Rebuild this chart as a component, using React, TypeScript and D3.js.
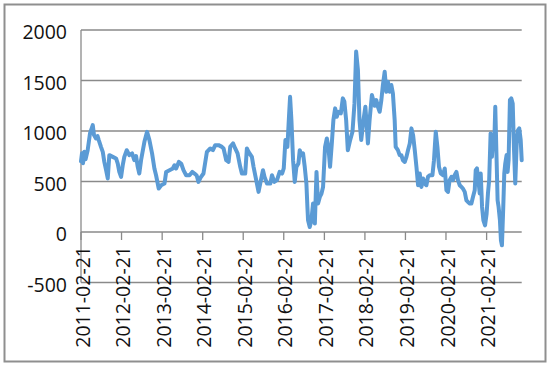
import React from "react";
import * as d3 from "d3";

const dates: string[] = [
  "2011-02-21","2011-03-02","2011-03-11","2011-03-23","2011-04-03","2011-04-22","2011-05-13","2011-06-07","2011-06-18","2011-07-06",
  "2011-07-20","2011-07-31","2011-08-20","2011-09-05","2011-09-19","2011-10-05","2011-10-20","2011-11-03","2011-12-04","2012-01-03",
  "2012-01-18","2012-02-01","2012-02-17","2012-03-03","2012-03-17","2012-04-08","2012-05-01","2012-05-26","2012-06-15","2012-07-01",
  "2012-07-16","2012-07-30","2012-08-15","2012-09-14","2012-10-08","2012-10-29","2012-11-22","2012-12-13","2012-12-28","2013-01-21",
  "2013-02-12","2013-03-14","2013-03-29","2013-04-28","2013-05-28","2013-06-12","2013-06-27","2013-07-21","2013-08-11","2013-09-01",
  "2013-09-25","2013-10-25","2013-11-19","2013-12-09","2013-12-29","2014-01-14","2014-02-03","2014-02-28","2014-03-31","2014-04-30",
  "2014-05-24","2014-06-14","2014-07-14","2014-08-13","2014-08-28","2014-09-21","2014-10-12","2014-10-27","2014-11-21","2014-12-11",
  "2015-01-01","2015-01-25","2015-02-09","2015-03-11","2015-03-26","2015-04-10","2015-05-10","2015-05-25","2015-06-18","2015-07-09",
  "2015-07-24","2015-08-18","2015-09-01","2015-09-23","2015-10-23","2015-11-07","2015-11-28","2015-12-22","2016-01-15","2016-02-06",
  "2016-02-21","2016-03-07","2016-03-25","2016-04-08","2016-04-18","2016-04-30","2016-05-15","2016-05-30","2016-06-14","2016-07-02",
  "2016-07-14","2016-07-29","2016-08-13","2016-08-28","2016-09-12","2016-09-21","2016-09-27","2016-10-12","2016-10-27","2016-11-11",
  "2016-11-27","2016-12-12","2016-12-26","2017-01-11","2017-01-26","2017-02-09","2017-02-27","2017-03-15","2017-03-29","2017-04-13",
  "2017-04-29","2017-05-13","2017-05-29","2017-06-13","2017-06-27","2017-07-19","2017-08-06","2017-08-20","2017-09-05","2017-09-20",
  "2017-10-11","2017-11-01","2017-11-19","2017-12-04","2017-12-20","2018-01-03","2018-01-19","2018-02-08","2018-02-25","2018-03-06",
  "2018-03-20","2018-04-04","2018-04-25","2018-05-20","2018-06-04","2018-06-18","2018-07-04","2018-07-19","2018-08-02","2018-08-18",
  "2018-09-02","2018-09-16","2018-10-02","2018-10-17","2018-10-31","2018-11-16","2018-11-25","2018-12-15","2018-12-31","2019-01-15",
  "2019-01-29","2019-02-15","2019-03-02","2019-03-16","2019-04-01","2019-04-16","2019-05-01","2019-05-16","2019-05-31","2019-06-15",
  "2019-06-30","2019-07-15","2019-07-30","2019-08-14","2019-08-29","2019-09-12","2019-09-28","2019-10-22","2019-11-05","2019-11-21",
  "2019-12-06","2019-12-20","2020-01-05","2020-01-25","2020-02-10","2020-02-25","2020-03-10","2020-03-25","2020-04-10","2020-04-24",
  "2020-05-09","2020-05-25","2020-06-08","2020-06-24","2020-07-09","2020-07-23","2020-08-08","2020-08-23","2020-09-06","2020-09-22",
  "2020-10-07","2020-10-21","2020-11-06","2020-11-15","2020-11-26","2020-12-09","2020-12-21","2020-12-30","2021-01-11","2021-01-23",
  "2021-02-07","2021-02-21","2021-03-05","2021-03-16","2021-03-29","2021-04-10","2021-04-22","2021-05-01","2021-05-10","2021-05-22",
  "2021-05-31","2021-06-09","2021-06-21","2021-06-30","2021-07-09","2021-07-21","2021-07-30","2021-08-08","2021-08-20","2021-08-29",
  "2021-09-07","2021-09-19","2021-10-01","2021-10-14","2021-10-25","2021-11-06","2021-11-19","2021-12-01","2021-12-12","2021-12-25",
  "2022-01-03",
];

const values: number[] = [
  700,780,680,794,720,810,976,1058,960,926,
  950,910,843,794,694,612,530,761,744,728,
  678,595,546,661,744,810,761,778,711,751,
  645,579,711,893,992,910,778,629,562,430,
  463,480,595,612,629,661,629,694,678,612,
  562,562,595,579,560,496,540,579,794,827,
  810,860,860,843,827,711,694,843,877,827,
  778,645,579,579,827,794,744,645,513,397,
  480,612,546,480,480,562,496,513,595,579,
  629,910,843,1141,1339,1108,711,496,645,678,
  810,761,778,645,480,248,116,50,116,282,
  83,595,282,347,381,446,843,926,843,645,
  877,1108,1224,1141,1190,1174,1323,1290,1108,810,
  910,992,1273,1786,1604,1108,910,1108,1240,1108,
  877,1108,1356,1250,1306,1240,1190,1306,1455,1587,
  1389,1488,1389,1455,1373,1108,843,810,761,761,
  711,694,744,810,877,1026,959,810,645,463,
  579,446,530,480,463,546,562,562,711,992,
  843,645,579,562,629,414,397,513,546,513,
  562,595,513,463,446,430,397,314,298,282,
  282,347,414,612,629,513,381,579,248,116,
  66,182,381,513,976,744,943,877,1240,711,
  314,248,116,-82,-132,248,579,678,761,595,
  711,1306,1323,1273,843,480,877,1008,1026,910,
  711,
];

const yTicks: number[] = [-500, 0, 500, 1000, 1500, 2000];
const xTickLabels: string[] = [
  "2011-02-21","2012-02-21","2013-02-21","2014-02-21","2015-02-21","2016-02-21",
  "2017-02-21","2018-02-21","2019-02-21","2020-02-21","2021-02-21",
];

export default function App() {
  const W = 550, H = 365;
  const left = 81, right = 521.7, top = 30, bottom = 282.5;
  const parse = d3.timeParse("%Y-%m-%d");
  const pts = dates.map((d, i) => ({ t: parse(d) as Date, v: values[i] }));
  const x = d3.scaleTime()
    .domain([parse(dates[0]) as Date, parse(dates[dates.length - 1]) as Date])
    .range([left, right]);
  const y = d3.scaleLinear().domain([-500, 2000]).range([bottom, top]);
  const line = d3.line<{ t: Date; v: number }>()
    .x((p) => x(p.t))
    .y((p) => y(p.v));
  const font = "'Open Sans', sans-serif";
  const grid = "#8a8a8a";
  return (
    <svg width={W} height={H} style={{ position: "absolute", left: 0, top: 0, background: "#fff" }}>
      <rect x={4.5} y={4.5} width={541} height={357} fill="#fff" stroke="#8f8f8f" strokeWidth={2} />
      {yTicks.map((t) => (
        <g key={t}>
          <line x1={left} x2={right} y1={y(t)} y2={y(t)} stroke={grid} strokeWidth={1.3} />
          <text x={67} y={y(t) + 1.5} textAnchor="end" dominantBaseline="central"
            fontFamily={font} fontSize={19.5} fill="#111">{t}</text>
        </g>
      ))}
      <line x1={left} x2={left} y1={top} y2={bottom} stroke={grid} strokeWidth={1.3} />
      {xTickLabels.map((s) => {
        const tx = x(parse(s) as Date);
        return (
          <g key={s}>
            <line x1={tx} x2={tx} y1={y(0)} y2={y(0) + 8} stroke={grid} strokeWidth={1.3} />
            <text transform={`translate(${tx + 1.7},246) rotate(-90)`} textAnchor="end" dy="0.35em"
              fontFamily={font} fontSize={19.5} fill="#111">{s}</text>
          </g>
        );
      })}
      <path d={line(pts) || ""} fill="none" stroke="#5b9bd5" strokeWidth={4}
        strokeLinejoin="round" strokeLinecap="round" />
    </svg>
  );
}
